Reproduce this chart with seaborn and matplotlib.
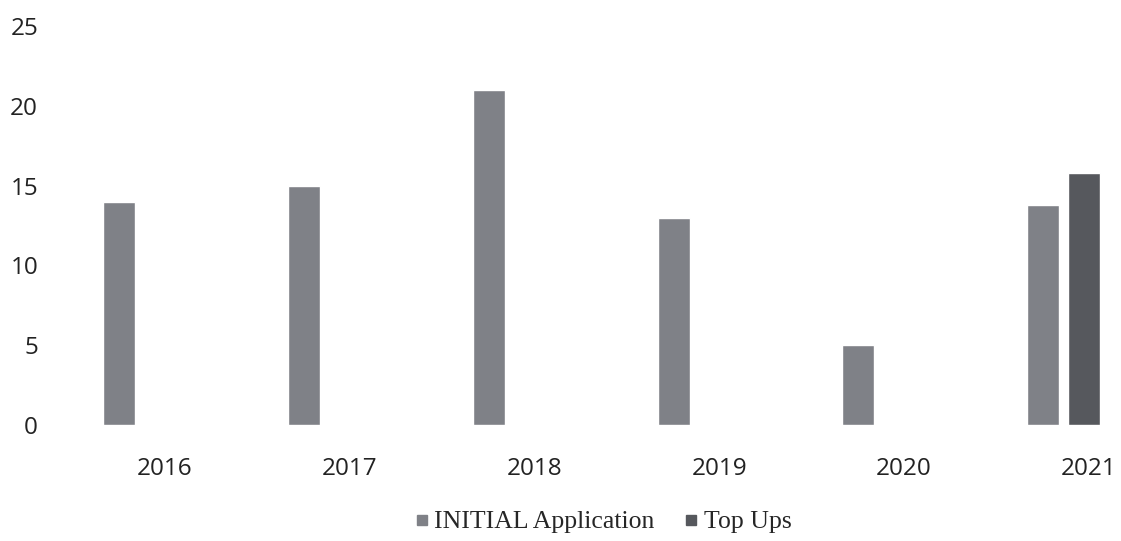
import matplotlib
matplotlib.use("Agg")
import matplotlib.pyplot as plt
import matplotlib.transforms as mtransforms
from matplotlib.lines import Line2D
import seaborn as sns
import pandas as pd

years = ["2016", "2017", "2018", "2019", "2020", "2021"]
initial_application = [14, 15, 21, 13, 5, 13.8]
top_ups = [0, 0, 0, 0, 0, 15.8]
series_names = ["INITIAL Application", "Top Ups"]
y_ticks = [0, 5, 10, 15, 20, 25]

df = pd.DataFrame({
    "Year": years * 2,
    "Value": initial_application + top_ups,
    "Series": [series_names[0]] * len(years) + [series_names[1]] * len(years),
})

colors = {series_names[0]: "#7f8187", series_names[1]: "#56585d"}

sns.set_style("white")
fig = plt.figure(figsize=(11.21, 5.41), dpi=100)
ax = fig.add_axes([45 / 1121, 0.2144, (1121 - 45) / 1121, 0.952 - 0.2144])

sns.barplot(data=df, x="Year", y="Value", hue="Series", palette=colors,
            width=0.444, gap=0.22, ax=ax, legend=False, saturation=1,
            order=years, hue_order=series_names)

ax.set_xlim(-0.514, 5.31)
ax.set_ylim(0, 25)
ax.set_yticks(y_ticks)
ax.set_yticklabels([str(t) for t in y_ticks], fontsize=17.5, family="Open Sans", color="#222222")
ax.set_xticks(range(len(years)))
ax.set_xticklabels(years, fontsize=17.5, family="Open Sans", color="#222222")
ax.tick_params(axis="y", length=0, pad=5)
ax.tick_params(axis="x", length=0, pad=23)
offset = mtransforms.ScaledTranslation(0.25, 0, fig.dpi_scale_trans)
for lbl in ax.get_xticklabels():
    lbl.set_transform(lbl.get_transform() + offset)
ax.set_xlabel("")
ax.set_ylabel("")
for s in ax.spines.values():
    s.set_visible(False)

handles = [Line2D([], [], marker="s", linestyle="none", markersize=7.5,
                  markerfacecolor=colors[n], markeredgecolor=colors[n]) for n in series_names]
fig.legend(handles, series_names, loc="center", bbox_to_anchor=(600 / 1121, 1 - 522 / 541),
           ncol=2, frameon=False, prop={"family": "Liberation Serif", "size": 18.5},
           handletextpad=0.0, columnspacing=0.9, handlelength=1.0)

fig.savefig("out.png", dpi=100)
